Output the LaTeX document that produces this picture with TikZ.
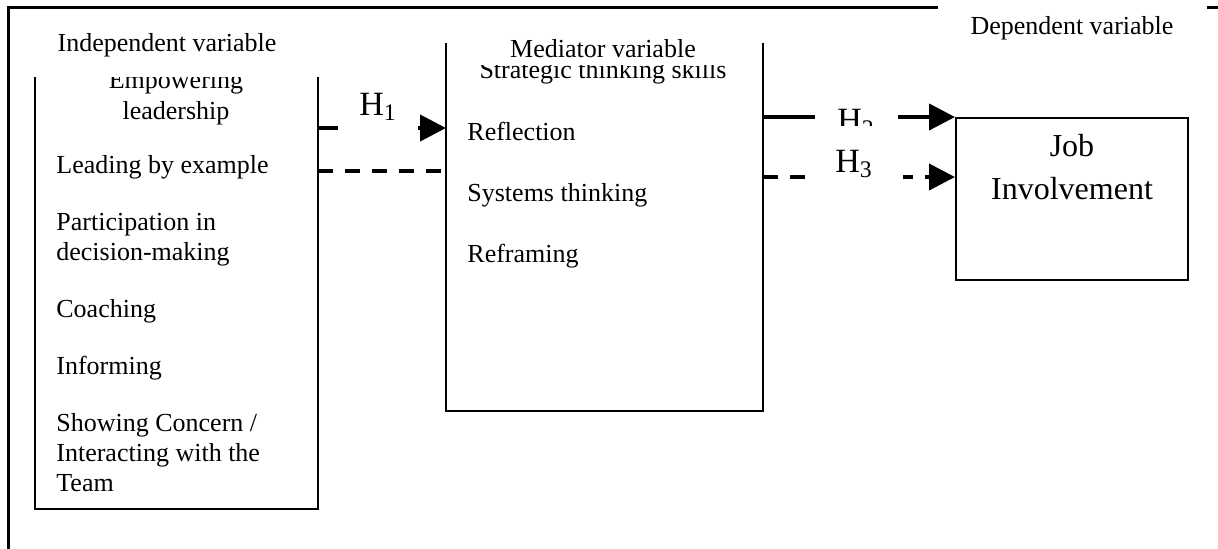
\documentclass[tikz,border=0pt]{standalone}
\usepackage{fontspec}
\setmainfont{Liberation Serif}
\usetikzlibrary{arrows.meta,positioning}

\begin{document}
\begin{tikzpicture}[x=0.5pt, y=-0.5pt, >={Triangle[length=13pt,width=13pt]},
    every node/.style={inner sep=0pt},
    body/.style={font=\fontsize{13}{15}\selectfont},
    tag/.style={body, fill=white},
    hyp/.style={font=\fontsize{17}{20}\selectfont, fill=white, anchor=base},
    frame/.style={line width=1pt},
    link/.style={line width=2pt},
    dlink/.style={line width=2pt, dash pattern=on 7.5pt off 6pt}]
    \clip (0,0) rectangle (1218,548);
    \fill[white] (0,0) rectangle (1218,548);
    % outer frame runs off the right and bottom edge
    \draw[line width=1.5pt] (8,560) -- (8,7) -- (1240,7);

    \node[minimum width=141pt, minimum height=215.5pt, anchor=north west] (indep) at (35,77) {};
    \node[minimum width=158pt, minimum height=183.5pt, anchor=north west] (med) at (446,43) {};
    \node[draw, frame, minimum width=116pt, minimum height=81pt, anchor=north west] (job) at (955,117) {};
    \draw[frame] (indep.north west) -- (indep.south west) -- (indep.south east) -- (indep.north east);
    \draw[frame] (med.north west) -- (med.south west) -- (med.south east) -- (med.north east);

    \node[body, align=center, anchor=north] (emp) at (176,71) {Empowering\\[0.5pt]leadership};
    \node[body, align=left, anchor=north west] (indepitems) at (56,155) {Leading by example\\[13.5pt]
        Participation in\\decision-making\\[13.5pt]Coaching\\[13.5pt]Informing\\[13.5pt]
        Showing Concern /\\Interacting with the\\Team};
    \node[body, anchor=base] (strat) at (603,78) {Strategic thinking skills};
    \node[body, align=left, anchor=north west] (meditems) at (467,122) {Reflection\\[15.5pt]
        Systems thinking\\[15.5pt]Reframing};
    \node[font=\fontsize{16}{21.5}\selectfont, align=center, below=8.5pt of job.north] (jobtxt) {Job\\Involvement};

    \coordinate (h1y) at (0,128);
    \coordinate (dy) at (0,171);
    \coordinate (h3y) at (0,177);
    \draw[link, ->] (indep.east |- h1y) -- (med.west |- h1y);
    \draw[dlink] (indep.east |- dy) -- (med.west |- dy);
    \draw[link, ->] (med.east |- job.north) -- (job.north west);
    \draw[dlink, ->] (med.east |- h3y) -- (job.west |- h3y);

    \node[tag, anchor=base, inner ysep=10.2pt] (indeptag) at (167,51) {Independent variable};
    \node[tag, anchor=base, minimum width=145pt, inner ysep=4pt] (medtag) at (603,57) {Mediator variable};
    \node[tag, anchor=base, minimum width=134.5pt, inner ysep=7pt] (deptag) at (1072,34) {Dependent variable};

    \node[hyp, minimum width=40pt, inner ysep=6.5pt] (h1) at (378,115) {H\textsubscript{1}};
    \node[hyp, minimum width=41.5pt, inner ysep=2pt] (h2) at (856,131) {H\textsubscript{2}};
    \node[hyp, minimum width=48.5pt, inner ysep=12pt] (h3) at (854,172) {H\textsubscript{3}};
\end{tikzpicture}
\end{document}
